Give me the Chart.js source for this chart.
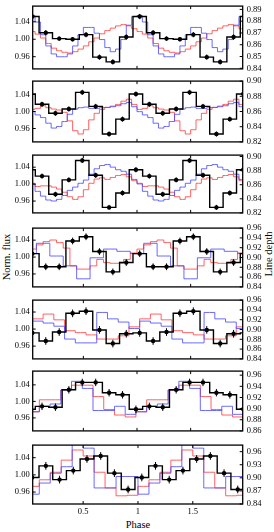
<!DOCTYPE html>
<html>
<head>
<meta charset="utf-8">
<script src="https://cdn.jsdelivr.net/npm/chart.js@4.4.0/dist/chart.umd.min.js"></script>
<style>
  body { margin: 0; background: #fff; }
  #fig { position: relative; width: 274px; height: 532px; overflow: hidden; background: #fff; }
  #fig canvas { position: absolute; left: 0; }
  .lab { position: absolute; font-family: "Liberation Serif", serif; font-size: 10.5px; color: #000; white-space: nowrap; }
  .rot { transform: translate(-50%, -50%) rotate(-90deg); }
</style>
</head>
<body>
<div id="fig">
  <div class="lab rot" style="left:5.5px; top:257px;">Norm. flux</div>
  <div class="lab rot" style="left:268px; top:254px;">Line depth</div>
  <div class="lab" style="left:138px; top:524px; transform: translate(-50%, -50%);">Phase</div>
</div>
<script>
// one phase cycle per series, the plot repeats it over phase 0..2
const xTickValues = [0.5, 1, 1.5];
const xTickLabels = ['0.5', '1', '1.5'];
const fluxTicks = [0.96, 1.00, 1.04];

const binsFine = [0.025, 0.075, 0.125, 0.175, 0.225, 0.275, 0.325, 0.375, 0.425, 0.475,
                  0.525, 0.575, 0.625, 0.675, 0.725, 0.775, 0.825, 0.875, 0.925, 0.975];
const blackPhaseA = [0.025, 0.15, 0.275, 0.4, 0.525, 0.65, 0.775, 0.9];
const blackPhaseB = [0.115, 0.24, 0.365, 0.49, 0.615, 0.74, 0.865, 0.99];
const blackPhaseC = [0.035, 0.16, 0.285, 0.41, 0.535, 0.66, 0.785, 0.91];

// panel 1
const flux1 = [1.052, 1.015, 1.0015, 1.000, 1.0105, 0.959, 0.948, 1.005];
const err1 = [0.006, 0.006, 0.005, 0.005, 0.006, 0.006, 0.006, 0.006];
const red1 = [0.8712, 0.869, 0.8657, 0.8611, 0.8571, 0.8549, 0.8536, 0.853, 0.8541, 0.8563,
              0.859, 0.8625, 0.8657, 0.8693, 0.872, 0.8741, 0.876, 0.8771, 0.876, 0.8736];
const blue1 = [0.8847, 0.8793, 0.8685, 0.859, 0.8522, 0.8498, 0.8498, 0.8522, 0.859, 0.8685,
               0.8747, 0.8747, 0.8698, 0.8644, 0.8576, 0.8541, 0.8563, 0.8644, 0.8766, 0.8839];
const depthTicks1 = [0.84, 0.85, 0.86, 0.87, 0.88, 0.89];

// panel 2
const flux2 = [1.017, 0.996, 1.006, 1.045, 1.012, 0.947, 0.982, 1.041];
const err2 = [0.006, 0.006, 0.006, 0.006, 0.006, 0.006, 0.006, 0.006];
const red2 = [0.8628, 0.8641, 0.8676, 0.865, 0.8632, 0.8619, 0.8589, 0.8477, 0.8347, 0.8304,
              0.836, 0.849, 0.8576, 0.8628, 0.8654, 0.8671, 0.8693, 0.8736, 0.8762, 0.8693];
const blue2 = [0.8598, 0.8555, 0.852, 0.8446, 0.8382, 0.8403, 0.8468, 0.8563, 0.8632, 0.865,
               0.8658, 0.8641, 0.8641, 0.865, 0.8654, 0.8663, 0.8676, 0.8702, 0.8719, 0.8663];
const depthTicks2 = [0.82, 0.84, 0.86, 0.88, 0.90];

// panel 3
const flux3 = [1.019, 0.976, 1.010, 1.056, 1.021, 0.945, 0.979, 1.034];
const err3 = [0.006, 0.006, 0.006, 0.006, 0.006, 0.006, 0.006, 0.006];
const red3 = [0.862, 0.8575, 0.8584, 0.8584, 0.8566, 0.8538, 0.8493, 0.8429, 0.8392, 0.8429,
              0.8529, 0.862, 0.868, 0.8698, 0.8675, 0.8703, 0.873, 0.8744, 0.8712, 0.8657];
const blue3 = [0.8611, 0.8506, 0.8438, 0.8383, 0.8369, 0.8392, 0.8447, 0.852, 0.8566, 0.862,
               0.8666, 0.8749, 0.8826, 0.8872, 0.8886, 0.8849, 0.8813, 0.879, 0.8749, 0.8675];
const depthTicks3 = [0.82, 0.84, 0.86, 0.88, 0.90];

// panel 4
const flux4 = [1.008, 0.977, 0.977, 1.038, 1.048, 1.013, 0.965, 0.987];
const err4 = [0.008, 0.008, 0.008, 0.008, 0.008, 0.008, 0.008, 0.008];
const redPhase4 = [0.031, 0.094, 0.156, 0.219, 0.281, 0.344, 0.406, 0.469,
                   0.531, 0.594, 0.656, 0.719, 0.781, 0.844, 0.906, 0.969];
const red4 = [0.9172, 0.9258, 0.9324, 0.9357, 0.9304, 0.9192, 0.8829, 0.8763,
              0.8763, 0.8829, 0.8961, 0.8895, 0.8882, 0.8882, 0.8961, 0.9093];
const bluePhase4 = [0, 0.125, 0.25, 0.375, 0.5, 0.625, 0.75, 0.875];
const blue4 = [0.908, 0.929, 0.903, 0.883, 0.8565, 0.8994, 0.9172, 0.9126];
const depthTicks4 = [0.84, 0.86, 0.88, 0.90, 0.92, 0.94, 0.96];

// panel 5
const flux5 = [0.991, 0.972, 0.993, 1.037, 1.042, 0.998, 0.966, 0.989];
const err5 = [0.009, 0.009, 0.009, 0.009, 0.009, 0.009, 0.009, 0.009];
const coarsePhase5 = [0.075, 0.175, 0.275, 0.375, 0.475, 0.575, 0.675, 0.775, 0.875, 0.975];
const red5 = [0.9217, 0.9315, 0.9197, 0.8975, 0.8936, 0.889, 0.8805, 0.8805, 0.8871, 0.9054];
const blue5 = [0.9171, 0.9132, 0.9067, 0.8805, 0.8727, 0.8727, 0.9348, 0.9217, 0.9152, 0.9021];
const depthTicks5 = [0.84, 0.86, 0.88, 0.90, 0.92, 0.94, 0.96];

// panel 6
const flux6 = [0.988, 0.986, 1.028, 1.046, 1.046, 1.021, 1.016, 0.981];
const err6 = [0.009, 0.009, 0.009, 0.009, 0.009, 0.009, 0.009, 0.009];
const coarsePhase6 = [0.04, 0.14, 0.24, 0.34, 0.44, 0.54, 0.64, 0.74, 0.84, 0.94];
const red6 = [0.8943, 0.9158, 0.9158, 0.9333, 0.942, 0.942, 0.9216, 0.8984, 0.8885, 0.885];
const blue6 = [0.8943, 0.9042, 0.9083, 0.9333, 0.949, 0.9362, 0.8966, 0.8966, 0.9042, 0.8897];
const depthTicks6 = [0.86, 0.88, 0.90, 0.92, 0.94, 0.96];

// panel 7
const flux7 = [0.994, 1.021, 0.989, 1.010, 1.037, 1.044, 1.004, 0.966];
const err7 = [0.009, 0.009, 0.009, 0.009, 0.009, 0.009, 0.009, 0.009];
const coarsePhase7 = [0.05, 0.15, 0.25, 0.35, 0.45, 0.55, 0.65, 0.75, 0.85, 0.95];
const red7 = [0.8805, 0.8955, 0.9128, 0.9405, 0.9638, 0.95, 0.9128, 0.8768, 0.8588, 0.86];
const blue7 = [0.8625, 0.888, 0.9105, 0.9255, 0.99, 0.968, 0.8768, 0.8768, 0.903, 0.903];
const depthTicks7 = [0.84, 0.87, 0.90, 0.93, 0.96];

const panels = [
  {bp: blackPhaseA, flux: flux1, err: err1, rp: binsFine, red: red1, blp: binsFine, blue: blue1, dt: depthTicks1},
  {bp: blackPhaseB, flux: flux2, err: err2, rp: binsFine, red: red2, blp: binsFine, blue: blue2, dt: depthTicks2},
  {bp: blackPhaseB, flux: flux3, err: err3, rp: binsFine, red: red3, blp: binsFine, blue: blue3, dt: depthTicks3},
  {bp: blackPhaseA, flux: flux4, err: err4, rp: redPhase4, red: red4, blp: bluePhase4, blue: blue4, dt: depthTicks4},
  {bp: blackPhaseA, flux: flux5, err: err5, rp: coarsePhase5, red: red5, blp: coarsePhase5, blue: blue5, dt: depthTicks5},
  {bp: blackPhaseB, flux: flux6, err: err6, rp: coarsePhase6, red: red6, blp: coarsePhase6, blue: blue6, dt: depthTicks6},
  {bp: blackPhaseC, flux: flux7, err: err7, rp: coarsePhase7, red: red7, blp: coarsePhase7, blue: blue7, dt: depthTicks7}
];

// frame position and axis ranges for each panel
const boxes = [
  {top: 5, bottom: 69.3, x: [0.028, 1.985], y: [0.932, 1.076], y2: [0.8395, 0.8928]},
  {top: 80.8, bottom: 142.3, x: [0.028, 1.985], y: [0.9285, 1.0715], y2: [0.82, 0.90]},
  {top: 154.3, bottom: 214, x: [0.028, 1.985], y: [0.932, 1.0686], y2: [0.82, 0.902]},
  {top: 227.3, bottom: 287.3, x: [0.028, 1.985], y: [0.9294, 1.0685], y2: [0.84, 0.96]},
  {top: 299.5, bottom: 360, x: [0.028, 1.985], y: [0.93, 1.068], y2: [0.84, 0.96]},
  {top: 370.5, bottom: 432, x: [0.028, 1.985], y: [0.9286, 1.0733], y2: [0.86, 0.9673]},
  {top: 444, bottom: 504, x: [0.04, 1.955], y: [0.9322, 1.0693], y2: [0.84, 0.975]}
];

const plotLeft = 32.7;
const plotRight = 242.7;
const tickFont = {family: 'Liberation Serif', size: 8.5};

function folded(phases, values) {
    let pts = [];
    for (let c = -1; c <= 2; c++) {
        phases.forEach((p, i) => pts.push({x: p + c, y: values[i]}));
    }
    return pts;
}

function errorBars(phases, values, errs) {
    let pts = [];
    for (let c = -1; c <= 2; c++) {
        phases.forEach((p, i) => {
            pts.push({x: p + c, y: values[i] - errs[i]});
            pts.push({x: p + c, y: values[i] + errs[i]});
            pts.push({x: p + c, y: null});
        });
    }
    return pts;
}

// box round the plot with inward ticks on all four sides
const framePlugin = {
    id: 'frame',
    afterDatasetsDraw(chart) {
        const ctx = chart.ctx;
        const a = chart.chartArea;
        const s = chart.scales;
        ctx.save();
        ctx.strokeStyle = '#000';
        ctx.lineWidth = 1;
        ctx.beginPath();
        xTickValues.forEach(v => {
            const px = s.x.getPixelForValue(v);
            ctx.moveTo(px, a.top); ctx.lineTo(px, a.top + 3);
            ctx.moveTo(px, a.bottom); ctx.lineTo(px, a.bottom - 3);
        });
        s.y.ticks.forEach(t => {
            const py = s.y.getPixelForValue(t.value);
            if (py < a.top || py > a.bottom) return;
            ctx.moveTo(a.left, py); ctx.lineTo(a.left + 3, py);
        });
        s.y2.ticks.forEach(t => {
            const py = s.y2.getPixelForValue(t.value);
            if (py < a.top - 0.5 || py > a.bottom + 0.5) return;
            ctx.moveTo(a.right, py); ctx.lineTo(a.right - 3, py);
        });
        ctx.stroke();
        ctx.lineWidth = 1.3;
        ctx.strokeRect(a.left, a.top, a.right - a.left, a.bottom - a.top);
        ctx.restore();
    }
};

const fig = document.getElementById('fig');

panels.forEach((p, i) => {
    const b = boxes[i];
    const isLast = i === panels.length - 1;
    const extra = isLast ? 20 : 0;
    const canvasTop = Math.floor(b.top) - 8;
    const h = Math.ceil(b.bottom - canvasTop) + 8 + extra;
    const padTop = b.top - canvasTop;
    const padBottom = h - extra - (b.bottom - canvasTop);

    const canvas = document.createElement('canvas');
    canvas.width = 274;
    canvas.height = h;
    canvas.style.top = canvasTop + 'px';
    fig.appendChild(canvas);

    new Chart(canvas, {
        type: 'line',
        data: {
            datasets: [
                {
                    data: folded(p.bp, p.flux), yAxisID: 'y', stepped: 'middle',
                    borderColor: '#000', borderWidth: 1.4,
                    pointRadius: 2.2, pointBackgroundColor: '#000', pointBorderWidth: 0, order: 0
                },
                {
                    data: errorBars(p.bp, p.flux, p.err), yAxisID: 'y',
                    borderColor: '#000', borderWidth: 1, pointRadius: 0, spanGaps: false, order: 1
                },
                {
                    data: folded(p.blp, p.blue), yAxisID: 'y2', stepped: 'middle',
                    borderColor: 'rgba(70, 70, 255, 0.8)', borderWidth: 1, pointRadius: 0, order: 2
                },
                {
                    data: folded(p.rp, p.red), yAxisID: 'y2', stepped: 'middle',
                    borderColor: 'rgba(255, 60, 60, 0.8)', borderWidth: 1, pointRadius: 0, order: 3
                }
            ]
        },
        options: {
            responsive: false,
            animation: false,
            devicePixelRatio: 1,
            layout: {padding: {top: padTop, bottom: padBottom, left: 0, right: 0}},
            plugins: {legend: {display: false}, tooltip: {enabled: false}},
            scales: {
                x: {
                    type: 'linear', min: b.x[0], max: b.x[1], display: isLast,
                    grid: {display: false, drawTicks: false}, border: {display: false},
                    afterBuildTicks: s => { s.ticks = xTickValues.map(v => ({value: v})); },
                    afterFit: s => { s.height = isLast ? 20 : 0; },
                    ticks: {
                        callback: (v, k) => xTickLabels[k], font: tickFont, color: '#000',
                        padding: 3, maxRotation: 0, autoSkip: false
                    }
                },
                y: {
                    position: 'left', min: b.y[0], max: b.y[1],
                    grid: {display: false, drawTicks: false}, border: {display: false},
                    afterBuildTicks: s => { s.ticks = fluxTicks.map(v => ({value: v})); },
                    afterFit: s => { s.width = plotLeft; },
                    ticks: {callback: v => v.toFixed(2), font: tickFont, color: '#000', padding: 3, autoSkip: false}
                },
                y2: {
                    position: 'right', min: b.y2[0], max: b.y2[1],
                    grid: {display: false, drawTicks: false}, border: {display: false},
                    afterBuildTicks: s => { s.ticks = p.dt.map(v => ({value: v})); },
                    afterFit: s => { s.width = 274 - plotRight; },
                    ticks: {callback: v => v.toFixed(2), font: tickFont, color: '#000', padding: 4, autoSkip: false}
                }
            }
        },
        plugins: [framePlugin]
    });
});
</script>
</body>
</html>
